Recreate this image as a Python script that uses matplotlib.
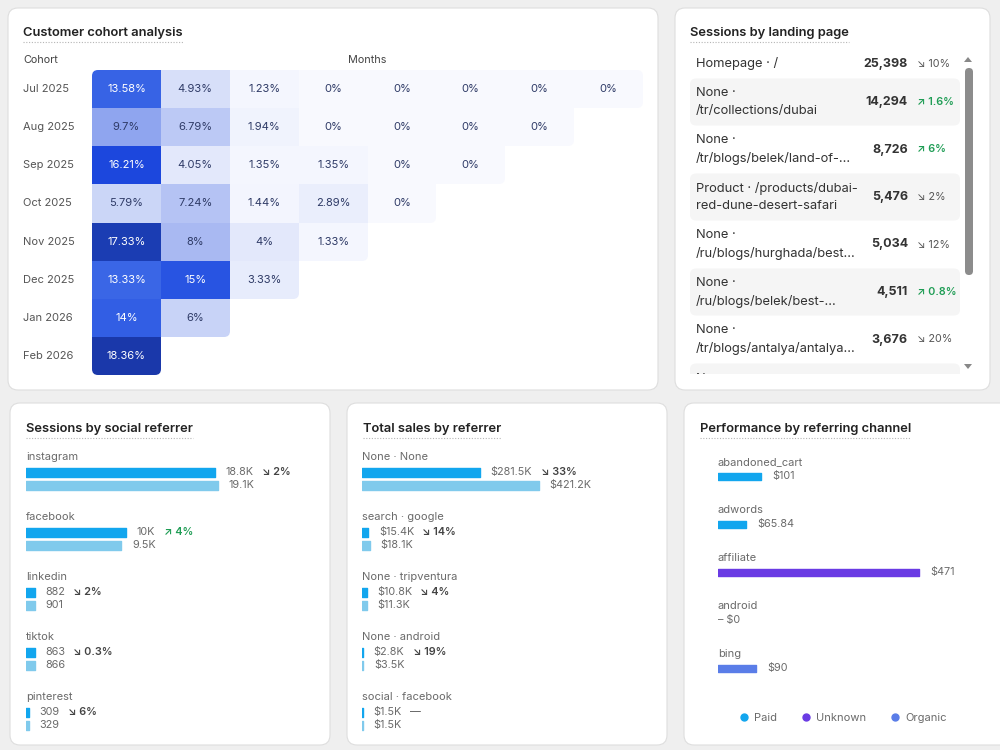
import numpy as np
import matplotlib.pyplot as plt
from matplotlib.patches import FancyBboxPatch, Rectangle, Polygon
from matplotlib.colors import LinearSegmentedColormap, Normalize
from matplotlib.lines import Line2D
from matplotlib.path import Path

plt.rcParams['font.family'] = ['Inter', 'DejaVu Sans']

# ---- data ----
cohorts = ['Jul 2025', 'Aug 2025', 'Sep 2025', 'Oct 2025',
           'Nov 2025', 'Dec 2025', 'Jan 2026', 'Feb 2026']
retention = [
    [13.58, 4.93, 1.23, 0, 0, 0, 0, 0],
    [9.7, 6.79, 1.94, 0, 0, 0, 0],
    [16.21, 4.05, 1.35, 1.35, 0, 0],
    [5.79, 7.24, 1.44, 2.89, 0],
    [17.33, 8, 4, 1.33],
    [13.33, 15, 3.33],
    [14, 6],
    [18.36],
]

landing_pages = ['Homepage · /',
                 'None ·\n/tr/collections/dubai',
                 'None ·\n/tr/blogs/belek/land-of-...',
                 'Product · /products/dubai-\nred-dune-desert-safari',
                 'None ·\n/ru/blogs/hurghada/best...',
                 'None ·\n/ru/blogs/belek/best-...',
                 'None ·\n/tr/blogs/antalya/antalya...']
landing_sessions = [25398, 14294, 8726, 5476, 5034, 4511, 3676]
landing_change = [-10, 1.6, 6, -2, -12, 0.8, -20]

social_names = ['instagram', 'facebook', 'linkedin', 'tiktok', 'pinterest']
social_now = [18800, 10000, 882, 863, 309]
social_prev = [19100, 9500, 901, 866, 329]
social_change = [-2, 4, -2, -0.3, -6]

sales_names = ['None · None', 'search · google', 'None · tripventura',
               'None · android', 'social · facebook']
sales_now = [281.5, 15.4, 10.8, 2.8, 1.5]      # $K
sales_prev = [421.2, 18.1, 11.3, 3.5, 1.5]     # $K
sales_change = [-33, -14, -4, -19, 0]

channel_names = ['abandoned_cart', 'adwords', 'affiliate', 'android', 'bing']
channel_values = [101, 65.84, 471, 0, 90]
channel_types = ['Paid', 'Paid', 'Unknown', 'Paid', 'Organic']
type_colors = {'Paid': '#12a6ee', 'Unknown': '#6a3be4', 'Organic': '#5a7de8'}

NOW_COLOR = '#12a6ee'
PREV_COLOR = '#80caec'
UP_COLOR = '#1f9d55'
TXT = '#555555'
LBL = '#6a6a6a'

W, H = 1000, 750
fig = plt.figure(figsize=(10, 7.5), dpi=100)
fig.patch.set_facecolor('#efefef')
bg = fig.add_axes([0, 0, 1, 1])
bg.set_xlim(0, W)
bg.set_ylim(H, 0)
bg.axis('off')


def px_axes(x0, y0, x1, y1):
    ax = fig.add_axes([x0 / W, 1 - y1 / H, (x1 - x0) / W, (y1 - y0) / H])
    ax.axis('off')
    return ax


def fmt_count(v):
    if v >= 1000:
        return f"{v / 1000:.1f}".rstrip('0').rstrip('.') + 'K'
    return f"{v:g}"


def fmt_change(c):
    if c == 0:
        return '—', TXT
    arrow = '↗' if c > 0 else '↘'
    return f"{arrow} {abs(c):g}%", (UP_COLOR if c > 0 else '#444444')


# ---- cards ----
cards = [(8, 8, 658, 390), (675, 8, 990, 390), (10, 403, 330, 745),
         (347, 403, 667, 745), (684, 403, 1012, 745)]
for x0, y0, x1, y1 in cards:
    bg.add_patch(FancyBboxPatch((x0, y0), x1 - x0, y1 - y0,
                                boxstyle='round,pad=0,rounding_size=10',
                                fc='white', ec='#dedede', lw=0.8))

titles = []
for x, y, s in [(23, 33, 'Customer cohort analysis'), (690, 33, 'Sessions by landing page'),
                (26, 429, 'Sessions by social referrer'), (363, 429, 'Total sales by referrer'),
                (700, 429, 'Performance by referring channel')]:
    titles.append(bg.text(x, y, s, fontsize=9.3, fontweight='semibold', color='#222222',
                          ha='left', va='center'))

# ---- cohort heatmap ----
n = len(cohorts)
grid = np.full((n, n), np.nan)
for i, row in enumerate(retention):
    grid[i, :len(row)] = row
vmax = max(max(r) for r in retention)
nodes = [(0, '#f8f9fe'), (1.5, '#f3f5fe'), (4, '#e3e8fb'), (6, '#c8d3f7'),
         (8, '#a9b9f2'), (9.7, '#8fa5ef'), (13.3, '#3a66e6'), (16.2, '#1c48e0'),
         (17.33, '#1b3db3'), (vmax, '#1a38aa')]
cmap = LinearSegmentedColormap.from_list('cohort', [(v / vmax, c) for v, c in nodes])

HX0, HY0, HX1, HY1 = 92, 70, 643, 375
axh = px_axes(HX0, HY0, HX1, HY1)
mesh = axh.pcolormesh(np.ma.masked_invalid(grid), cmap=cmap, norm=Normalize(0, vmax))
axh.set_xlim(0, n)
axh.set_ylim(n, 0)

# rounded outline of the staircase, built in pixel space and used as clip
cw, ch = (HX1 - HX0) / n, (HY1 - HY0) / n


def cell_box(xa, ya, xb, yb):
    p = FancyBboxPatch((HX0 + xa * cw, HY0 + ya * ch), (xb - xa) * cw, (yb - ya) * ch,
                       boxstyle='round,pad=0,rounding_size=6')
    return p.get_path()


pieces = [cell_box(0, 0, 1, n)]
for i, row in enumerate(retention):
    if len(row) > 1:
        pieces.append(cell_box(0.5, i if i == 0 else i - 0.5, len(row), i + 1))
mesh.set_clip_path(Path.make_compound_path(*pieces), bg.transData)

for i, row in enumerate(retention):
    axh.text(-1.0, i + 0.5, cohorts[i], ha='left', va='center', fontsize=8,
             color=TXT, clip_on=False)
    for j, v in enumerate(row):
        axh.text(j + 0.5, i + 0.5, f"{v:g}%", ha='center', va='center', fontsize=8,
                 color='white' if v >= 12 else '#2e3a66')
axh.text(-1.0, -0.25, 'Cohort', ha='left', va='center', fontsize=7.8, color='#444444')
axh.text(4.0, -0.25, 'Months', ha='center', va='center', fontsize=7.8, color='#444444')

# ---- sessions by landing page ----
clip = Rectangle((680, 40), 290, 334, transform=bg.transData)
centers = [64] + [102 + 47.5 * k for k in range(len(landing_pages))]
for i, yc in enumerate(centers):
    if i % 2 == 1:
        p = FancyBboxPatch((690, yc - 23.5), 270, 47, boxstyle='round,pad=0,rounding_size=6',
                           fc='#f5f5f5', ec='none')
        bg.add_patch(p)
        p.set_clip_path(clip)
    if i >= len(landing_pages):
        # next row, cut off by the scroll area
        t = bg.text(696, yc - 8.5, 'None ·', fontsize=9.3, color='#333333', ha='left', va='center')
        t.set_clip_path(clip)
        t.set_clip_on(True)
        continue
    bg.text(696, yc, landing_pages[i], fontsize=9.3, color='#333333', ha='left', va='center',
            linespacing=1.6)
    bg.text(908, yc, f"{landing_sessions[i]:,}", fontsize=9, fontweight='bold',
            color='#333333', ha='right', va='center')
    s, c = fmt_change(landing_change[i])
    up = landing_change[i] > 0
    bg.text(917, yc, s, fontsize=7.8, color=c if up else TXT,
            ha='left', va='center', fontweight='semibold' if up else 'normal')
bg.add_patch(FancyBboxPatch((965, 68), 8, 207, boxstyle='round,pad=0,rounding_size=4',
                            fc='#8c8c8c', ec='none'))
bg.add_patch(Polygon([(964, 62), (972, 62), (968, 57)], closed=True, fc='#888888', ec='none'))
bg.add_patch(Polygon([(964, 364), (972, 364), (968, 369)], closed=True, fc='#888888', ec='none'))


# ---- paired bar panels ----
def paired_panel(box, xmax, names, now, prev, change, fmt):
    ax = px_axes(*box)
    ax.set_xlim(0, xmax)
    ax.set_ylim(box[3] - box[1], 0)
    base = [12 + 60 * i for i in range(len(names))]
    y1 = [b + 15 for b in base]
    y2 = [b + 28 for b in base]
    ax.barh(y1, now, height=9, left=0, color=NOW_COLOR, ec=NOW_COLOR, lw=1, joinstyle='round')
    ax.barh(y2, prev, height=9, left=0, color=PREV_COLOR, ec=PREV_COLOR, lw=1, joinstyle='round')
    for i in range(len(names)):
        ax.text(0, base[i], names[i], fontsize=8, color=LBL, ha='left', va='center')
        t = ax.annotate(fmt(now[i]), xy=(now[i], y1[i]), xytext=(7.5, 0),
                        textcoords='offset points', fontsize=7.8, color=LBL,
                        ha='left', va='center')
        ax.annotate(fmt(prev[i]), xy=(prev[i], y2[i]), xytext=(7.5, 0),
                    textcoords='offset points', fontsize=7.8, color=LBL,
                    ha='left', va='center')
        s, c = fmt_change(change[i])
        ax.annotate(s, xy=(1, 0.5), xycoords=t, xytext=(6, 0), textcoords='offset points',
                    fontsize=7.8, color=c, ha='left', va='center',
                    fontweight='normal' if change[i] == 0 else 'semibold')
    return ax


paired_panel((26, 445, 316, 735), 28860, social_names, social_now, social_prev,
             social_change, fmt_count)
paired_panel((362, 445, 652, 735), 690, sales_names, sales_now, sales_prev,
             sales_change, lambda v: f"${v:.1f}K")

# ---- performance by channel ----
axc = px_axes(718, 445, 990, 735)
axc.set_xlim(0, 637)
axc.set_ylim(290, 0)
lab_y = [17 + 48 * i for i in range(len(channel_names))]
bar_y = [y + 14 for y in lab_y]
cols = [type_colors[t] for t in channel_types]
edges = [c if v > 0 else 'none' for c, v in zip(cols, channel_values)]
axc.barh(bar_y, channel_values, height=7, color=cols, ec=edges, lw=1, joinstyle='round')
for i, v in enumerate(channel_values):
    axc.text(0, lab_y[i], channel_names[i], fontsize=8, color=LBL, ha='left', va='center')
    if v == 0:
        axc.text(0, bar_y[i], '– $0', fontsize=7.8, color=LBL, ha='left', va='center')
    else:
        axc.annotate(f"${v:g}", xy=(v, bar_y[i]), xytext=(8, 0), textcoords='offset points',
                     fontsize=7.8, color=LBL, ha='left', va='center')
handles = [Line2D([], [], marker='o', ls='', color=type_colors[k], ms=5) for k in type_colors]
fig.legend(handles, list(type_colors), loc='center', bbox_to_anchor=(842 / W, 1 - 718 / H),
           ncol=3, frameon=False, fontsize=8, labelcolor=LBL, handletextpad=0.3,
           columnspacing=2.0, handlelength=1.2)

# ---- dotted underline under titles ----
fig.canvas.draw()
r = fig.canvas.get_renderer()
inv = bg.transData.inverted()
for t in titles:
    bb = t.get_window_extent(r)
    (xa, ya), (xb, yb) = inv.transform([(bb.x0, bb.y0), (bb.x1, bb.y1)])
    bg.plot([xa, xb], [ya + 2.5, ya + 2.5], color='#b5b5b5', lw=0.8, ls=(0, (1, 1.5)))

fig.savefig('out.png', dpi=100, facecolor=fig.get_facecolor())
